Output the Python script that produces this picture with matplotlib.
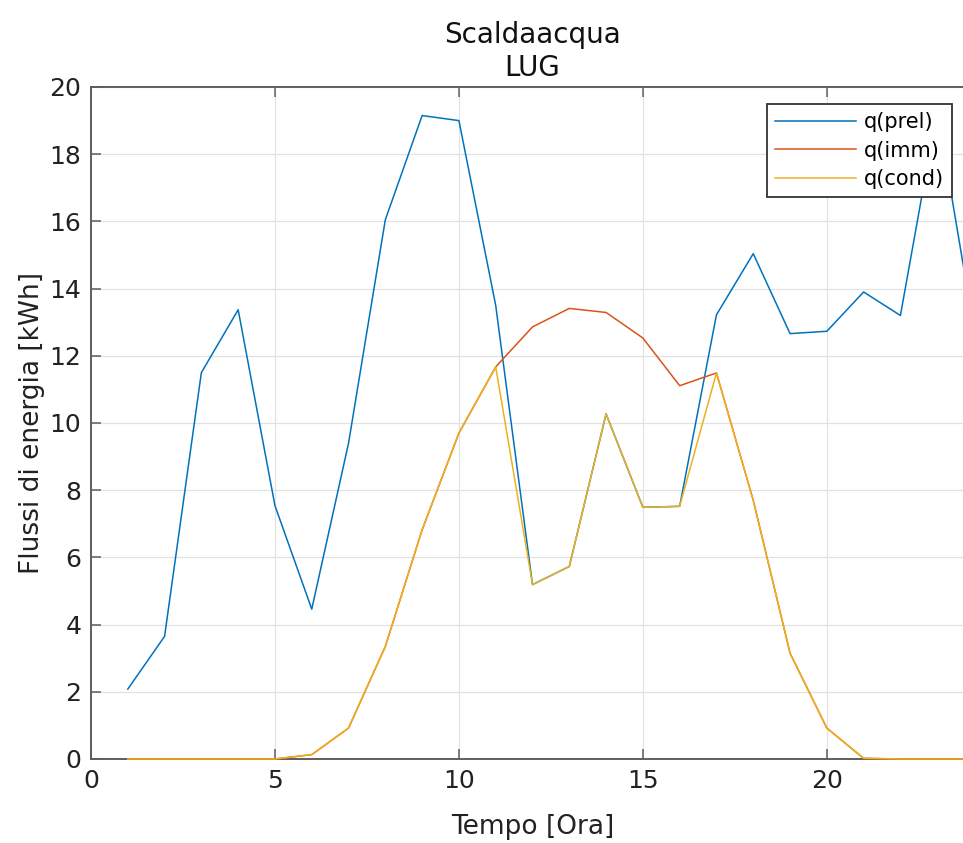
import matplotlib
matplotlib.use("Agg")
import matplotlib.pyplot as plt

# hourly energy flows, July (LUG)
hours = list(range(1, 25))
q_prel = [2.08, 3.65, 11.5, 13.37, 7.54, 4.46, 9.4, 16.05, 19.15, 19.0, 13.5, 5.19,
          5.73, 10.27, 7.49, 7.52, 13.22, 15.04, 12.66, 12.73, 13.9, 13.2, 19.3, 12.8]
q_imm = [0, 0, 0, 0, 0, 0.13, 0.92, 3.35, 6.82, 9.7, 11.67, 12.86,
         13.41, 13.29, 12.53, 11.11, 11.49, 7.7, 3.15, 0.92, 0.02, 0, 0, 0]
q_cond = [0, 0, 0, 0, 0, 0.13, 0.92, 3.35, 6.82, 9.7, 11.67, 5.19,
          5.73, 10.27, 7.49, 7.52, 11.49, 7.7, 3.15, 0.92, 0.02, 0, 0, 0]
labels = ['q(prel)', 'q(imm)', 'q(cond)']
colors = ['#0072BD', '#D95319', '#EDB120']

W, H = 963, 843
fig = plt.figure(figsize=(W / 100, H / 100), dpi=100)
# axes runs a bit past the right edge of the picture (cropped like the original)
ax = fig.add_axes([91 / W, 1 - 759 / H, (974 - 91) / W, (759 - 87) / H])

for y, lab, c in zip([q_prel, q_imm, q_cond], labels, colors):
    ax.plot(hours, y, color=c, lw=1.1, label=lab, zorder=3, clip_on=False)

ax.set_xlim(0, 24)
ax.set_ylim(0, 20)
ax.set_xticks([0, 5, 10, 15, 20])
ax.set_yticks(range(0, 21, 2))
ax.grid(True, color='#e2e2e2', lw=0.9)
ax.set_axisbelow(True)

for s in ['left', 'bottom', 'top', 'right']:
    ax.spines[s].set_color('#5e5e5e')
    ax.spines[s].set_linewidth(1.4)
ax.tick_params(direction='in', length=7, width=1.1, color='#5e5e5e',
               labelsize=18, labelcolor='#222222', top=True, right=True, pad=7)

ax.set_xlabel('Tempo [Ora]', fontsize=19, color='#222222')
ax.set_ylabel('Flussi di energia [kWh]', fontsize=19, color='#222222')
ax.xaxis.set_label_coords(0.5, -0.082)
ax.yaxis.set_label_coords(-0.052, 0.5)
ax.set_title('Scaldaacqua\nLUG', fontsize=20, color='#111111', pad=8)

leg = ax.legend(loc='upper right', bbox_to_anchor=(952 / W, 1 - 104 / H),
                bbox_transform=fig.transFigure, borderaxespad=0, fontsize=15,
                fancybox=False, framealpha=1, edgecolor='#333333',
                handlelength=3.9, handletextpad=0.35, borderpad=0.4, labelspacing=0.4)
leg.set_zorder(6)
leg.get_frame().set_linewidth(1.3)

fig.savefig('out.png', dpi=100)
